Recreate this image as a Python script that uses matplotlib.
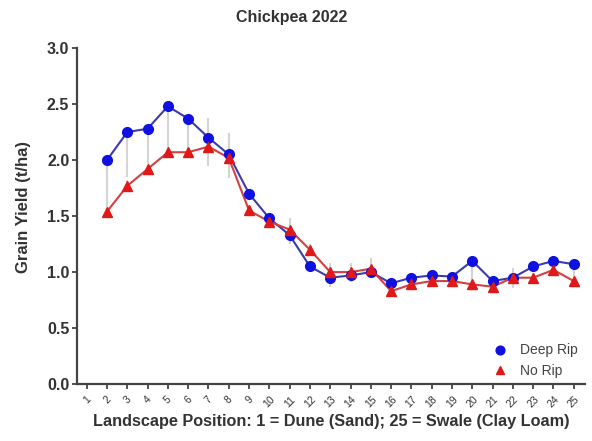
import matplotlib.pyplot as plt
import numpy as np

plt.rcParams['font.family'] = ['Liberation Sans', 'DejaVu Sans']

# landscape positions (no data at position 1)
positions = list(range(2, 26))
deep_rip = [2.00, 2.25, 2.28, 2.48, 2.37, 2.20, 2.05, 1.70, 1.48, 1.33, 1.05, 0.95,
            0.97, 1.00, 0.90, 0.95, 0.97, 0.96, 1.10, 0.92, 0.95, 1.05, 1.10, 1.07]
no_rip = [1.54, 1.77, 1.92, 2.07, 2.07, 2.12, 2.02, 1.55, 1.45, 1.38, 1.20, 1.00,
          1.00, 1.03, 0.83, 0.89, 0.92, 0.92, 0.89, 0.87, 0.95, 0.95, 1.02, 0.92]
deep_rip_err = [0.45, 0.40, 0.33, 0.42, 0.30, 0.25, 0.21, 0.06, 0.04, 0.08, 0.03, 0.08,
                0.06, 0.04, 0.04, 0.03, 0.04, 0.05, 0.18, 0.04, 0.09, 0.03, 0.04, 0.13]
no_rip_err = [0.05, 0.05, 0.05, 0.05, 0.08, 0.26, 0.22, 0.05, 0.04, 0.10, 0.05, 0.08,
              0.08, 0.10, 0.04, 0.03, 0.04, 0.04, 0.03, 0.04, 0.09, 0.04, 0.04, 0.04]
tick_labels = [str(i) for i in range(1, 26)]

fig = plt.figure(figsize=(5.92, 4.41), dpi=100)
ax = fig.add_axes([0.130, 0.129, 0.858, 0.762])

x = np.array(positions)
zeros = np.zeros(len(x))
ax.errorbar(x, deep_rip, yerr=[deep_rip_err, zeros], fmt='none',
            ecolor='#d4d4d4', elinewidth=1.5, capsize=0, zorder=1)
ax.errorbar(x, no_rip, yerr=[zeros, no_rip_err], fmt='none',
            ecolor='#d4d4d4', elinewidth=1.5, capsize=0, zorder=1)

ax.plot(x, deep_rip, color='#3b3bb0', lw=1.5, zorder=2)
ax.plot(x, no_rip, color='#d44040', lw=1.5, zorder=2)
ax.plot(x, deep_rip, 'o', color='#1010e0', ms=7, zorder=3, label='Deep Rip')
ax.plot(x, no_rip, '^', color='#e01818', ms=6.5, zorder=3, label='No Rip')

ax.set_xlim(0.52, 25.55)
ax.set_ylim(0, 3.0)
ax.set_xticks(range(1, 26))
ax.set_xticklabels(tick_labels, rotation=45, ha='center', fontsize=7.5, color='#333333')
ax.set_yticks(np.arange(0, 3.01, 0.5))
ax.set_yticklabels(['%.1f' % v for v in np.arange(0, 3.01, 0.5)],
                   fontsize=11.5, fontweight='bold', color='#333333')

for side in ['top', 'right']:
    ax.spines[side].set_visible(False)
for side in ['left', 'bottom']:
    ax.spines[side].set_linewidth(1.6)
    ax.spines[side].set_color('#444444')
ax.tick_params(axis='both', direction='out', length=3.5, width=1.3, color='#444444', pad=2)
ax.tick_params(axis='x', pad=4)

ax.set_ylabel('Grain Yield (t/ha)', fontsize=12, fontweight='bold', color='#333333')
ax.yaxis.set_label_coords(-0.09, 0.527)
ax.set_xlabel('Landscape Position: 1 = Dune (Sand); 25 = Swale (Clay Loam)',
              fontsize=11.7, fontweight='bold', color='#333333', labelpad=3)
fig.suptitle('Chickpea 2022', x=0.493, y=0.978, fontsize=11.5, fontweight='bold', color='#333333')

ax.legend(loc='lower right', frameon=False, fontsize=10, handletextpad=0.4,
          markerscale=0.9, bbox_to_anchor=(1.01, -0.02), labelcolor='#444444')

fig.savefig('out.png', dpi=100)
